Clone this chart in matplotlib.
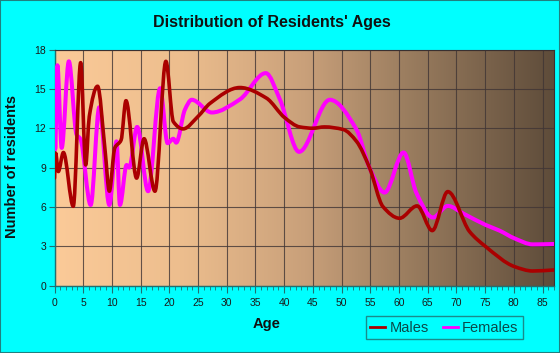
import numpy as np
import matplotlib
matplotlib.use("Agg")
import matplotlib.pyplot as plt
from matplotlib.path import Path
from matplotlib.patches import PathPatch
from matplotlib.lines import Line2D
from matplotlib.colors import LinearSegmentedColormap

# ---- data ----
male_ages = [0, 0.2, 0.66, 1.55, 3.27, 4.56, 5.43, 6.06, 7.5, 8.8, 9.55, 10.5, 11.6,
             12.45, 14.3, 15.6, 17.5, 19.4, 20.7, 22.4, 25, 27.1, 32.3, 36.9, 40.1,
             42.7, 45, 47, 50.3, 52.6, 54.9, 57.2, 60.1, 63.15, 65.8, 68.5, 72.3,
             75.1, 80.15, 83.3, 87]
male_vals = [8.2, 10.1, 8.7, 10.15, 6.05, 17.0, 9.2, 12.9, 15.2, 10.35, 7.2, 10.5, 11.1,
             14.1, 8.2, 11.2, 7.2, 17.1, 12.5, 11.95, 12.9, 13.9, 15.1, 14.3, 12.8,
             12.1, 12.0, 12.1, 11.9, 11.0, 8.95, 6.03, 5.14, 6.08, 4.2, 7.17, 4.12,
             2.98, 1.45, 1.12, 1.2]

female_ages = [0, 0.12, 0.5, 1.25, 2.5, 3.85, 4.5, 6.3, 7.8, 9.55, 10.8, 11.4, 12.56,
               13.0, 14.4, 16.3, 18.4, 19.7, 20.7, 21.2, 22.7, 23.9, 27.4, 32.3, 36.8,
               39.25, 42.6, 47.95, 52.6, 54.9, 57.5, 60.8, 63.05, 65.9, 68.5, 71.2,
               75.1, 77.5, 80.15, 83.3, 87]
female_vals = [14.2, 10.4, 16.8, 10.5, 17.1, 11.5, 11.2, 6.15, 13.6, 6.15, 11.0, 6.15, 9.2,
               9.0, 12.1, 7.2, 15.05, 10.86, 11.2, 10.9, 13.4, 14.17, 13.2, 14.2, 16.2,
               14.2, 10.2, 14.17, 11.9, 8.95, 7.1, 10.15, 7.05, 5.2, 6.08, 5.5,
               4.63, 4.2, 3.6, 3.15, 3.18]

x_ticks = list(range(0, 90, 5))
y_ticks = [0, 3, 6, 9, 12, 15, 18]


def pchip_slopes(x, y):
    x = np.asarray(x, float); y = np.asarray(y, float)
    h = np.diff(x); d = np.diff(y) / h
    m = np.zeros_like(y)
    for k in range(1, len(x) - 1):
        if d[k - 1] * d[k] <= 0:
            m[k] = 0.0
        else:
            w1 = 2 * h[k] + h[k - 1]
            w2 = h[k] + 2 * h[k - 1]
            m[k] = (w1 + w2) / (w1 / d[k - 1] + w2 / d[k])
    m[0] = d[0]
    m[-1] = d[-1]
    return m


def smooth_path(x, y):
    x = np.asarray(x, float); y = np.asarray(y, float)
    m = pchip_slopes(x, y)
    verts = [(x[0], y[0])]
    codes = [Path.MOVETO]
    for k in range(len(x) - 1):
        h = x[k + 1] - x[k]
        verts += [(x[k] + h / 3, y[k] + m[k] * h / 3),
                  (x[k + 1] - h / 3, y[k + 1] - m[k + 1] * h / 3),
                  (x[k + 1], y[k + 1])]
        codes += [Path.CURVE4] * 3
    return Path(verts, codes)


W, H = 560, 353
fig = plt.figure(figsize=(W / 100, H / 100), dpi=100, facecolor="#00FFFF")
ax = fig.add_axes([54.5 / W, 1 - 285.7 / H, (554 - 54.5) / W, (285.7 - 49.5) / H])
ax.set_xlim(0, 87)
ax.set_ylim(0, 18)

# gradient background
cmap = LinearSegmentedColormap.from_list(
    "bg", [(0.0, "#FBCA98"), (0.25, "#EDBE8E"), (0.5, "#C9A07A"),
           (0.7, "#9C7E60"), (1.0, "#5E4C3A")])
grad = np.linspace(0, 1, 256).reshape(1, -1)
ax.imshow(grad, aspect="auto", cmap=cmap, extent=[0, 87, 0, 18], zorder=0)

ax.set_xticks(x_ticks)
ax.set_xticks(range(0, 88), minor=True)
ax.set_yticks(y_ticks)
ax.grid(True, which="major", color="#403535", linewidth=0.8, alpha=0.8, zorder=1)

female_patch = PathPatch(smooth_path(female_ages, female_vals), facecolor="none",
                         edgecolor="#FF00FF", linewidth=2.9, zorder=3,
                         capstyle="round", joinstyle="round")
male_patch = PathPatch(smooth_path(male_ages, male_vals), facecolor="none",
                       edgecolor="#AA0000", linewidth=2.6, zorder=4,
                       capstyle="round", joinstyle="round")
ax.add_patch(female_patch)
ax.add_patch(male_patch)

for s in ["top", "right"]:
    ax.spines[s].set_color("#3a3030")
    ax.spines[s].set_linewidth(0.8)
for s in ["left", "bottom"]:
    ax.spines[s].set_color("#207070")
    ax.spines[s].set_linewidth(1.0)

ax.tick_params(axis="x", which="major", length=5, width=0.8, color="#207070",
               labelsize=7.5, labelcolor="#1a1a1a", pad=4)
ax.tick_params(axis="x", which="minor", length=3, width=0.6, color="#207070")
ax.tick_params(axis="y", which="major", length=4, width=0.8, color="#207070",
               labelsize=7.5, labelcolor="#1a1a1a", pad=2)
for lbl in ax.get_xticklabels() + ax.get_yticklabels():
    lbl.set_fontfamily("Liberation Sans")

fig.text(272 / W, 1 - 23 / H, "Distribution of Residents' Ages", ha="center",
         va="center", fontsize=11.5, fontweight="bold", family="Liberation Sans",
         color="#111111")
fig.text(12 / W, 1 - 167 / H, "Number of residents", rotation=90, ha="center",
         va="center", fontsize=10.5, fontweight="bold", family="Liberation Sans",
         color="#111111")
fig.text(266.5 / W, 1 - 324 / H, "Age", ha="center", va="center", fontsize=10.5,
         fontweight="bold", family="Liberation Sans", color="#111111")

handles = [Line2D([], [], color="#AA0000", linewidth=2.0),
           Line2D([], [], color="#FF00FF", linewidth=2.0)]
leg = fig.legend(handles, ["Males", "Females"], loc="center",
                 bbox_to_anchor=(444.5 / W, 1 - 327.7 / H), ncol=2, frameon=True,
                 fancybox=False, edgecolor="#207070", facecolor="#00FFFF",
                 handlelength=1.0, handletextpad=0.3, columnspacing=1.0,
                 borderpad=0.3, prop={"family": "Liberation Sans", "size": 10.5})
leg.get_frame().set_linewidth(1.0)
for t in leg.get_texts():
    t.set_color("#0a4a4a")

# figure border
fig.patches.append(matplotlib.patches.Rectangle((0, 0), 1, 1, transform=fig.transFigure,
                                                fill=False, edgecolor="#208080",
                                                linewidth=1.5))

fig.savefig("out.png", dpi=100, facecolor="#00FFFF")
